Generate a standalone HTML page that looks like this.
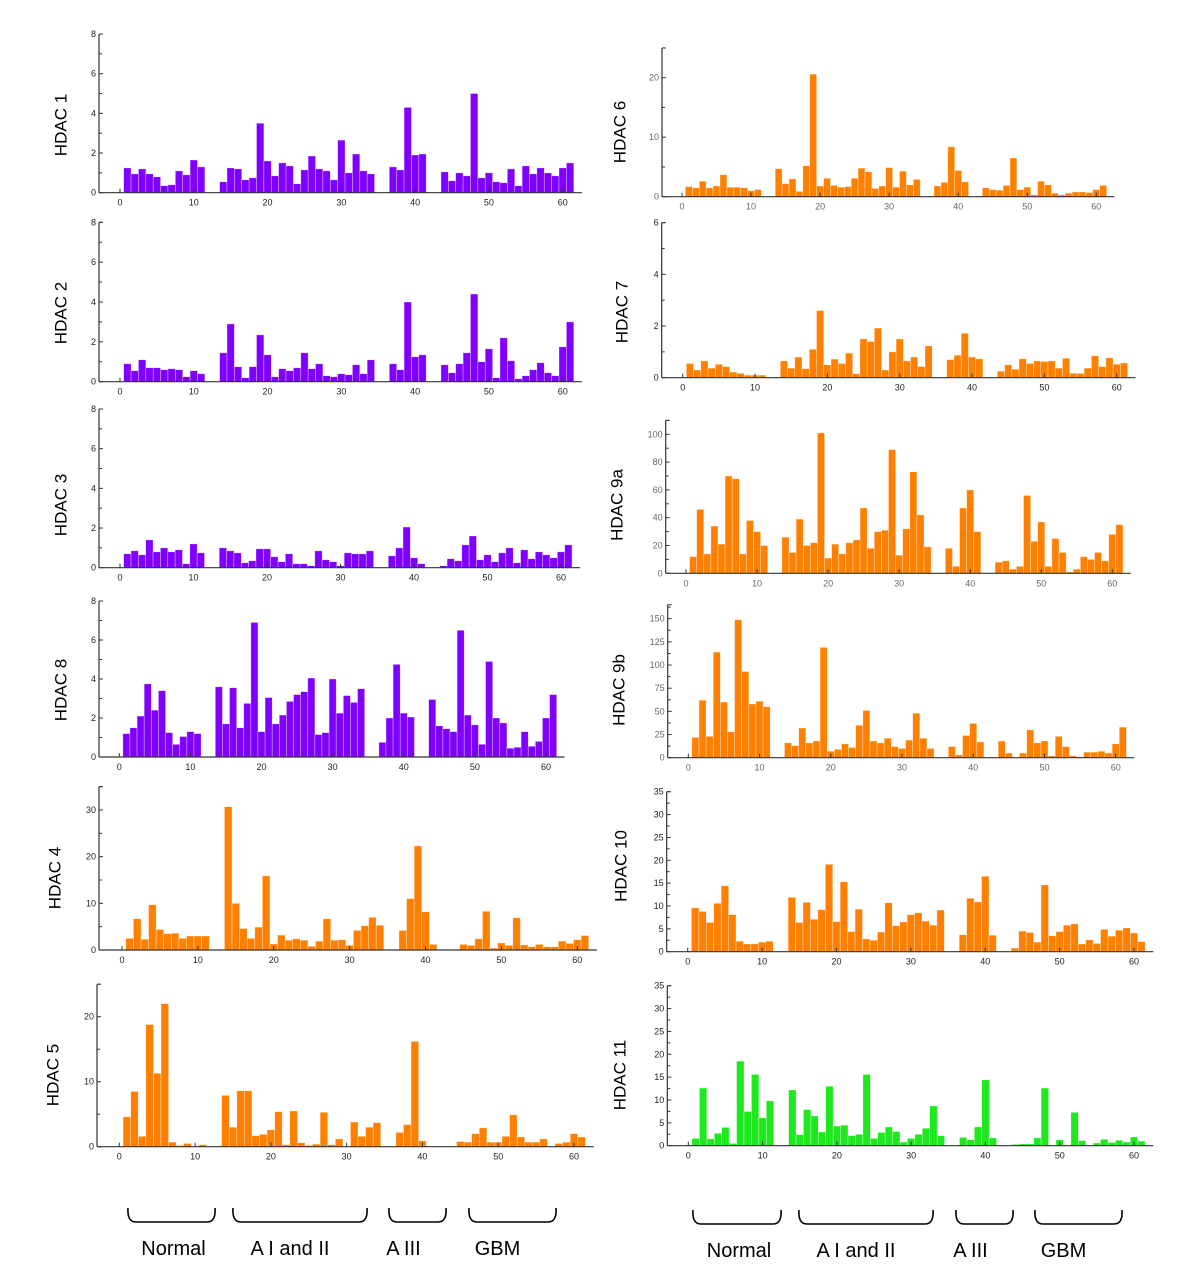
<!DOCTYPE html>
<html>
<head>
<meta charset="utf-8">
<style>
html,body{margin:0;padding:0;background:#fff;}
svg{display:block;}
text{font-family:"Liberation Sans",sans-serif;}
</style>
</head>
<body>
<svg id="fig" width="1200" height="1288" viewBox="0 0 1200 1288" xmlns="http://www.w3.org/2000/svg"></svg>
<script>
// ---- data (index 1..61; 0 = no sample) ----
const samples = [1,2,3,4,5,6,7,8,9,10,11,12,13,14,15,16,17,18,19,20,21,22,23,24,25,26,27,28,29,30,31,32,33,34,35,36,37,38,39,40,41,42,43,44,45,46,47,48,49,50,51,52,53,54,55,56,57,58,59,60,61];
const hdac1 = [1.25,0.95,1.2,0.95,0.8,0.35,0.4,1.1,0.9,1.65,1.3,0,0,0.55,1.25,1.2,0.65,0.75,3.5,1.6,0.85,1.5,1.35,0.45,1.15,1.85,1.2,1.1,0.65,2.65,1.0,1.95,1.1,0.95,0,0,1.3,1.15,4.3,1.9,1.95,0,0,1.05,0.6,1.0,0.85,5.0,0.75,1.0,0.55,0.5,1.2,0.35,1.35,0.95,1.25,1.0,0.85,1.25,1.5];
const hdac2 = [0.9,0.55,1.1,0.7,0.7,0.6,0.65,0.6,0.25,0.55,0.4,0,0,1.45,2.9,0.75,0.2,0.75,2.35,1.35,0.25,0.65,0.55,0.7,1.45,0.65,0.9,0.3,0.25,0.4,0.35,0.85,0.4,1.1,0,0,0.9,0.6,4.0,1.25,1.35,0,0,0.85,0.45,0.9,1.45,4.4,1.0,1.65,0.2,2.2,1.05,0.15,0.3,0.6,0.95,0.45,0.3,1.75,3.0];
const hdac3 = [0.7,0.85,0.65,1.4,0.8,1.0,0.8,0.9,0.2,1.2,0.75,0,0,1.0,0.85,0.75,0.25,0.35,0.95,0.95,0.55,0.3,0.7,0.2,0.2,0.1,0.85,0.4,0.3,0.1,0.75,0.7,0.7,0.85,0,0,0.6,1.0,2.05,0.5,0.2,0,0,0.1,0.45,0.35,1.15,1.6,0.4,0.65,0.3,0.75,1.0,0.25,0.9,0.45,0.8,0.65,0.5,0.8,1.15];
const hdac8 = [1.2,1.5,2.1,3.75,2.4,3.4,1.25,0.65,1.05,1.3,1.2,0,0,3.6,1.7,3.55,1.5,2.75,6.9,1.3,3.05,1.7,2.15,2.85,3.2,3.35,4.05,1.15,1.25,4.0,2.25,3.15,2.8,3.5,0,0,0.75,2.0,4.75,2.25,2.05,0,0,2.95,1.6,1.45,1.3,6.5,2.15,1.65,0.65,4.9,2.0,1.75,0.45,0.5,1.3,0.55,0.8,2.0,3.2];
const hdac4 = [2.5,6.7,2.3,9.7,4.4,3.5,3.6,2.5,3.0,3.0,3.0,0,0,30.7,10,4.6,2.5,4.9,15.9,1.3,3.2,2.1,2.4,2.1,0.8,1.9,6.7,2.1,2.2,1.0,4.2,5.2,7.0,5.3,0,0,4.2,11,22.3,8.2,1.2,0,0,0,1.2,1.0,2.4,8.3,0.4,1.5,1.0,6.9,1.1,0.7,1.2,0.7,0.7,1.9,1.4,2.2,3.1];
const hdac5 = [4.6,8.5,1.6,18.8,11.3,22.0,0.7,0.2,0.5,0,0.3,0,0,7.9,3.0,8.6,8.6,1.7,1.9,2.6,5.4,0.3,5.5,0.6,0.2,0.4,5.3,0.3,1.2,0,3.8,1.6,3.0,3.7,0,0,2.2,3.4,16.2,0.9,0,0,0,0,0.8,0.7,2.0,2.9,0.7,0.7,1.6,4.9,1.5,0.7,0.7,1.2,0,0.5,0.7,2.0,1.5];
const hdac6 = [1.7,1.5,2.6,1.5,1.8,3.7,1.6,1.6,1.5,1.0,1.2,0,0,4.7,2.2,3.0,0.9,5.2,20.6,1.8,3.1,1.9,1.6,1.7,3.1,4.8,4.2,1.4,1.8,4.9,1.6,4.3,2.0,2.9,0,0,1.8,2.4,8.4,4.4,2.5,0,0,1.5,1.2,1.1,1.9,6.5,1.2,1.6,0.3,2.6,2.0,0.6,0.3,0.6,0.8,0.8,0.7,1.2,1.9];
const hdac7 = [0.55,0.3,0.65,0.37,0.52,0.43,0.22,0.17,0.1,0.1,0.1,0,0,0.65,0.37,0.8,0.35,1.1,2.6,0.5,0.72,0.55,0.95,0.15,1.5,1.4,1.92,0.3,1.0,1.5,0.65,0.8,0.43,1.23,0,0,0.7,0.87,1.72,0.8,0.73,0,0,0.25,0.5,0.33,0.73,0.55,0.65,0.63,0.65,0.37,0.75,0.17,0.17,0.37,0.85,0.43,0.77,0.52,0.57];
const hdac9a = [12,46,14,34,21,70,68,14,38,30,20,0,0,26,15,39,20,22,101,11,21,14,22,24,47,18,30,31,89,13,32,73,42,19,0,0,18,5,47,60,30,0,0,8,9,3,5,56,23,37,5,25,15,1,3,12,10,15,9,28,35];
const hdac9b = [22,62,23,114,60,28,149,93,58,61,55,0,0,16,13,32,16,18,119,7,9,15,11,35,51,18,16,21,12,10,19,48,21,10,0,0,12,3,24,37,17,0,0,18,5,0,5,30,16,18,2,23,12,2,1,6,6,7,5,15,33];
const hdac10 = [9.6,8.8,6.4,10.6,14.4,8.1,2.3,1.7,1.7,2.1,2.3,0,0,11.9,6.4,10.8,7.1,9.2,19.1,6.6,15.3,4.4,9.3,2.8,2.5,4.3,10.7,5.7,6.5,8.1,8.5,6.7,5.8,9.1,0,0,3.7,11.7,10.9,16.5,3.6,0,0,0.8,4.5,4.2,2.1,14.6,3.5,4.4,5.8,6.1,1.7,2.6,1.8,4.9,3.4,4.7,5.2,4.1,2.2];
const hdac11 = [1.6,12.6,1.5,2.7,4.0,0.5,18.5,7.5,15.6,6.1,9.8,0,0,12.2,2.4,7.9,6.5,3.0,13.0,4.3,4.5,2.2,2.5,15.6,1.6,2.9,4.1,3.1,0.8,1.6,2.5,3.8,8.7,2.2,0,0,1.8,1.3,4.1,14.4,1.7,0,0,0.3,0.4,0.4,1.7,12.6,0,1.3,0,7.3,1.1,0,0.6,1.4,0.7,1.2,0.8,1.9,1.0];
const xTicks = [0,10,20,30,40,50,60];
const ticks8 = [0,2,4,6,8];
const ticks30 = [0,10,20,30];
const ticks20 = [0,10,20];
const ticks6 = [0,2,4,6];
const ticks100 = [0,20,40,60,80,100];
const ticks150 = [0,25,50,75,100,125,150];
const ticks35 = [0,5,10,15,20,25,30,35];
const groupNames = ["Normal","A I and II","A III","GBM"];

// ---- layout ----
const PURPLE="#7f00ff", ORANGE="#ff8000", GREEN="#1ee81e";
const panels = [
 {name:"hdac-1",label:"HDAC 1",data:hdac1,ticks:ticks8,minor:1,top:8,color:PURPLE,ax:99,x0:120,x60:562.7,y0:192.7,yv:34,vv:8,lx:62,ly:125},
 {name:"hdac-2",label:"HDAC 2",data:hdac2,ticks:ticks8,minor:1,top:8,color:PURPLE,ax:99,x0:120,x60:562.7,y0:381.7,yv:222.3,vv:8,lx:62,ly:313},
 {name:"hdac-3",label:"HDAC 3",data:hdac3,ticks:ticks8,minor:1,top:8,color:PURPLE,ax:99,x0:120,x60:561,y0:567.7,yv:409,vv:8,lx:62,ly:505},
 {name:"hdac-8",label:"HDAC 8",data:hdac8,ticks:ticks8,minor:1,top:8,color:PURPLE,ax:99,x0:119.3,x60:546,y0:757,yv:601,vv:8,lx:62,ly:690},
 {name:"hdac-4",label:"HDAC 4",data:hdac4,ticks:ticks30,minor:5,top:35,color:ORANGE,ax:99,x0:122,x60:577.3,y0:950,yv:810,vv:30,lx:56,ly:878},
 {name:"hdac-5",label:"HDAC 5",data:hdac5,ticks:ticks20,minor:5,top:25,color:ORANGE,ax:97,x0:119.3,x60:574,y0:1146.7,yv:1016.7,vv:20,lx:54,ly:1075},
 {name:"hdac-6",label:"HDAC 6",data:hdac6,ticks:ticks20,minor:5,top:25,color:ORANGE,ax:662,x0:682,x60:1096.3,y0:196.7,yv:77.7,vv:20,lx:621,ly:132,grey:true},
 {name:"hdac-7",label:"HDAC 7",data:hdac7,ticks:ticks6,minor:1,top:6,color:ORANGE,ax:661.7,x0:682.7,x60:1116.7,y0:377.7,yv:222.7,vv:6,lx:623,ly:312},
 {name:"hdac-9a",label:"HDAC 9a",data:hdac9a,ticks:ticks100,minor:10,top:110,color:ORANGE,ax:665.7,x0:686,x60:1112.3,y0:573.3,yv:434.3,vv:100,lx:618,ly:505,grey:true},
 {name:"hdac-9b",label:"HDAC 9b",data:hdac9b,ticks:ticks150,minor:12.5,top:165,color:ORANGE,ax:667.7,x0:688.3,x60:1115.7,y0:757.7,yv:618.7,vv:150,lx:620,ly:690,grey:true},
 {name:"hdac-10",label:"HDAC 10",data:hdac10,ticks:ticks35,minor:2.5,top:35,color:ORANGE,ax:666.7,x0:687.7,x60:1134,y0:951.7,yv:791.7,vv:35,lx:622,ly:866},
 {name:"hdac-11",label:"HDAC 11",data:hdac11,ticks:ticks35,minor:2.5,top:35,color:GREEN,ax:667.3,x0:688.3,x60:1134,y0:1145.7,yv:985.7,vv:35,lx:621,ly:1075}
];
const NS="http://www.w3.org/2000/svg";
const svg=document.getElementById('fig');
function mk(tag,attrs,parent){const e=document.createElementNS(NS,tag);for(const k in attrs)e.setAttribute(k,attrs[k]);(parent||svg).appendChild(e);return e;}

panels.forEach(p=>{
  const g=mk('g',{});
  
  
  const xs=v=>p.x0+(p.x60-p.x0)*v/60;
  const ys=v=>p.y0-(p.y0-p.yv)*v/p.vv;
  const unit=(p.x60-p.x0)/60;
  // bars
  p.data.forEach((v,i)=>{
    if(!(v>0))return;
    const s=samples[i];
    const r=mk('rect',{x:xs(s-0.5),y:ys(v),width:unit,height:p.y0-ys(v),fill:p.color,stroke:"#fff","stroke-opacity":0.55,"stroke-width":0.6},g);
    
    
  });
  // axes
  const yax=mk('line',{x1:p.ax,y1:ys(p.top),x2:p.ax,y2:p.y0,stroke:"#333","stroke-width":1.2},g);
  
  
  const xend=xs(62.6);
  const xax=mk('line',{x1:p.ax,y1:p.y0,x2:xend,y2:p.y0,stroke:"#333","stroke-width":1.2},g);
  
  
  // y ticks
  for(let v=0;v<=p.top+1e-6;v+=p.minor){
    const major=p.ticks.some(t=>Math.abs(t-v)<1e-6);
    mk('line',{x1:p.ax,y1:ys(v),x2:p.ax+(major?4:3),y2:ys(v),stroke:"#333","stroke-width":1},g);
  }
  mk('line',{x1:p.ax,y1:ys(p.top),x2:p.ax+4,y2:ys(p.top),stroke:"#333","stroke-width":1},g);
  p.ticks.forEach(t=>{
    const tx=mk('text',{x:p.ax-3,y:ys(t)+3,"font-size":9,"text-anchor":"end",fill:p.grey?"#666":"#222"},g);
    tx.textContent=t;
    
    
  });
  xTicks.forEach(t=>{
    mk('line',{x1:xs(t),y1:p.y0,x2:xs(t),y2:p.y0-4,stroke:"#333","stroke-width":1},g);
    const tx=mk('text',{x:xs(t),y:p.y0+13,"font-size":9,"text-anchor":"middle",fill:p.grey?"#666":"#222"},g);
    tx.textContent=t;
    
    
  });
  const lb=mk('text',{x:p.lx,y:p.ly,"font-size":17,"text-anchor":"middle",fill:"#000",transform:`rotate(-90 ${p.lx} ${p.ly})`,"dominant-baseline":"middle"},g);
  lb.textContent=p.label;
  
  
});

// group braces
const braceSets=[
  {side:"left",y1:1208,y2:1222,ty:1255,spans:[[128,215],[233,367],[389,446],[469,556]]},
  {side:"right",y1:1210,y2:1224,ty:1257,spans:[[693,781],[799,933],[956,1013],[1035,1122]]}
];
braceSets.forEach(b=>{
  b.spans.forEach((s,i)=>{
    const [a,c]=s;
    const d=`M${a},${b.y1} Q${a-1},${b.y2} ${a+8},${b.y2} L${c-8},${b.y2} Q${c+1},${b.y2} ${c},${b.y1}`;
    const pth=mk('path',{d:d,fill:"none",stroke:"#000","stroke-width":1.6});
    
    
    const t=mk('text',{x:(a+c)/2+(i===0?2:(i===2?-14:(i===3?-15:-10))),y:b.ty,"font-size":20,"text-anchor":"middle",fill:"#000"});
    t.textContent=groupNames[i];
    
    
  });
});
</script>
</body>
</html>
